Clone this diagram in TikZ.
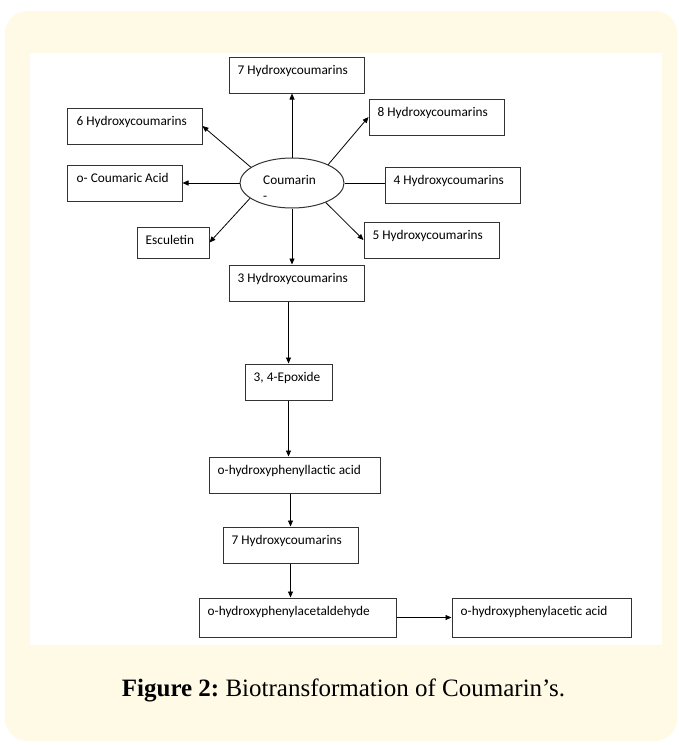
\documentclass[tikz,border=0pt]{standalone}
\usepackage{fontspec}
\setmainfont{Liberation Serif}
\newfontfamily\boxfont{Carlito}
\usetikzlibrary{arrows.meta,shapes.geometric,calc}
\definecolor{cream}{HTML}{FFFAE6}
\definecolor{edge}{HTML}{333333}
\frenchspacing
\begin{document}
\begin{tikzpicture}[x=1pt,y=-1pt,
  box/.style={draw=edge, line width=1pt, rectangle, inner sep=0pt},
  lbl/.style={anchor=base west, inner sep=0pt, font=\boxfont\fontsize{13.3}{16}\selectfont},
  arr/.style={draw=black, line width=0.8pt, -{Triangle[length=6pt,width=5pt]}},
  ln/.style={draw=black, line width=0.8pt}]
\useasboundingbox (0,0) rectangle (679,745);
\fill[cream, rounded corners=22pt] (5,11) rectangle (677,741);
\fill[white] (30,53) rectangle (662,645);

% boxes
\node[box, minimum width=135pt, minimum height=36pt] (h7)   at (296.5,75) {};
\node[box, minimum width=135pt, minimum height=36pt] (h8)   at (436.5,117) {};
\node[box, minimum width=135pt, minimum height=36pt] (h6)   at (134.5,126) {};
\node[box, minimum width=115pt, minimum height=36pt] (ocou) at (124.5,183) {};
\node[box, minimum width=135pt, minimum height=36pt] (h4)   at (452.5,185) {};
\node[box, minimum width=72pt,  minimum height=31pt] (esc)  at (173,242.5) {};
\node[box, minimum width=135pt, minimum height=36pt] (h5)   at (431.5,240) {};
\node[box, minimum width=135pt, minimum height=36pt] (h3)   at (296.5,283) {};
\node[box, minimum width=87pt,  minimum height=36pt] (epox) at (288.5,382) {};
\node[box, minimum width=171pt, minimum height=36pt] (lac)  at (294.5,475) {};
\node[box, minimum width=135pt, minimum height=36pt] (h7b)  at (290.5,545) {};
\node[box, minimum width=197pt, minimum height=39pt] (ald)  at (297.5,617.5) {};
\node[box, minimum width=179pt, minimum height=39pt] (acid) at (541.5,617.5) {};
\node[draw=edge, line width=1pt, ellipse, inner sep=0pt, minimum width=104pt, minimum height=50pt] (coum) at (292,183) {};

% labels
\node[lbl] (t7)   at ([xshift=9pt,yshift=-18pt]h7.north west)   {7 Hydroxycoumarins};
\node[lbl] (t8)   at ([xshift=9pt,yshift=-18pt]h8.north west)   {8 Hydroxycoumarins};
\node[lbl] (t6)   at ([xshift=10pt,yshift=-18pt]h6.north west)  {6 Hydroxycoumarins};
\node[lbl] (tocou) at ([xshift=10pt,yshift=-18pt]ocou.north west) {o- Coumaric Acid};
\node[lbl] (t4)   at ([xshift=9pt,yshift=-18pt]h4.north west)   {4 Hydroxycoumarins};
\node[lbl] (tesc) at ([xshift=9pt,yshift=-18pt]esc.north west)  {Esculetin};
\node[lbl] (t5)   at ([xshift=9pt,yshift=-18pt]h5.north west)   {5 Hydroxycoumarins};
\node[lbl] (t3)   at ([xshift=9pt,yshift=-18pt]h3.north west)   {3 Hydroxycoumarins};
\node[lbl] (tepox) at ([xshift=9pt,yshift=-18pt]epox.north west) {3, 4-Epoxide};
\node[lbl] (tlac) at ([xshift=9pt,yshift=-18pt]lac.north west)  {o-hydroxyphenyllactic acid};
\node[lbl] (t7b)  at ([xshift=9pt,yshift=-18pt]h7b.north west)  {7 Hydroxycoumarins};
\node[lbl] (tald) at ([xshift=9pt,yshift=-18pt]ald.north west)  {o-hydroxyphenylacetaldehyde};
\node[lbl] (tacid) at ([xshift=9pt,yshift=-18pt]acid.north west) {o-hydroxyphenylacetic acid};
\node[lbl] (tcoum) at ([xshift=-29pt,yshift=-1pt]coum.center) {Coumarin};
\node[lbl] (tdash) at ([xshift=-29pt,yshift=-17pt]coum.center) {-};

% connectors
\draw[arr] (coum.north) -- (coum.north |- h7.south);
\draw[arr] (coum.159) -- (h6.east);
\draw[arr] (coum.27) -- (h8.west);
\draw[arr] (coum.west) -- (coum.west -| ocou.east);
\draw[ln]  (coum.east) -- (coum.east -| h4.west);
\draw[arr] (coum.200) -- (esc.east);
\draw[arr] (coum.330) -- (h5.west);
\draw[arr] (coum.south) -- (coum.south |- h3.north);
\draw[arr] (epox.north |- h3.south) -- (epox.north);
\draw[arr] (epox.south) -- (epox.south |- lac.north);
\draw[arr] (h7b.north |- lac.south) -- (h7b.north);
\draw[arr] (h7b.south) -- (h7b.south |- ald.north);
\draw[arr] (ald.east) -- (acid.west);

% caption
\node[font=\fontsize{25}{30}\selectfont, inner sep=0pt] (cap) at (343.5,690) {\textbf{Figure 2:} Biotransformation of Coumarin’s.};
\end{tikzpicture}
\end{document}
